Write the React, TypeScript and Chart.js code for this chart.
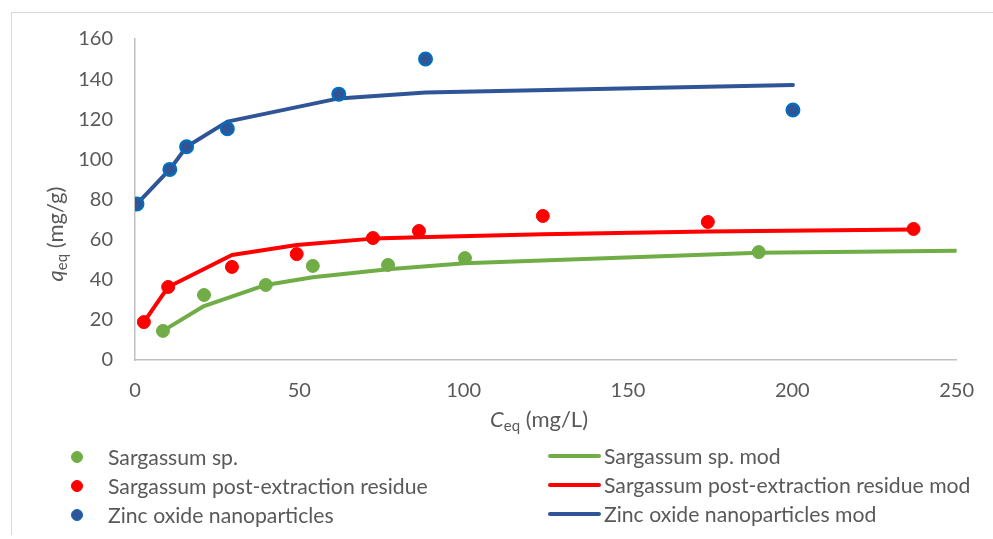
import React, { useEffect, useRef } from "react";
import { Chart, registerables } from "chart.js";
Chart.register(...registerables);

// ---- data ----
const seriesNames = [
  "Sargassum sp.",
  "Sargassum post-extraction residue",
  "Zinc oxide nanoparticles",
];
const modelNames = [
  "Sargassum sp. mod",
  "Sargassum post-extraction residue mod",
  "Zinc oxide nanoparticles mod",
];

const sargX = [8.5, 21, 39.8, 54.1, 77, 100.4, 189.8];
const sargY = [14.5, 32.4, 37.4, 46.9, 47.4, 50.8, 53.8];
const sargModX = [8.5, 21, 39.8, 54.1, 77, 100.4, 189.8, 250];
const sargModY = [14.5, 26.9, 37.4, 41.2, 45.2, 48.2, 53.5, 54.5];

const resX = [2.7, 10.1, 29.5, 49.2, 72.4, 86.4, 124.1, 174.3, 236.9];
const resY = [18.9, 36.4, 46.4, 52.8, 60.8, 64.3, 71.8, 68.8, 65.3];
const resModY = [18.9, 36.4, 52.3, 57.3, 60.5, 61.2, 62.7, 64.0, 65.1];

const znoX = [0.6, 10.6, 15.7, 28.1, 62, 88.4, 200.2];
const znoY = [77.8, 95, 106.3, 115.3, 132.5, 150, 124.6];
const znoModY = [77.8, 95, 106.3, 118.8, 130.4, 133.3, 137.1];

const xMin = 0, xMax = 250, xStep = 50;
const yMin = 0, yMax = 160, yStep = 20;

const GREEN = "#70AD47";
const RED = "#FF0000";
const BLUE_LINE = "#2F5597";
const BLUE_PT = "#2F5597";
const BLUE_PT_BORDER = "#0070C0";
const TEXT = "#595959";
const FONT = "Lato, 'Open Sans', sans-serif";

const pts = (xs: number[], ys: number[]) => xs.map((x, i) => ({ x, y: ys[i] }));

export default function App() {
  const ref = useRef<HTMLCanvasElement | null>(null);

  useEffect(() => {
    if (!ref.current) return;
    const pointDs = (label: string, data: any[], fill: string, border: string, bw: number) => ({
      type: "scatter" as const,
      label,
      data,
      showLine: false,
      backgroundColor: fill,
      borderColor: border,
      pointBackgroundColor: fill,
      pointBorderColor: border,
      pointBorderWidth: bw,
      pointRadius: 6.5,
      order: 0,
    });
    const lineDs = (label: string, data: any[], color: string) => ({
      type: "scatter" as const,
      label,
      data,
      showLine: true,
      borderColor: color,
      backgroundColor: color,
      borderWidth: 4,
      borderCapStyle: "round" as const,
      borderJoinStyle: "round" as const,
      pointRadius: 0,
      pointHoverRadius: 0,
      order: 1,
    });

    const chart = new Chart(ref.current, {
      type: "scatter",
      data: {
        datasets: [
          pointDs(seriesNames[0], pts(sargX, sargY), GREEN, GREEN, 1),
          pointDs(seriesNames[1], pts(resX, resY), RED, RED, 1),
          pointDs(seriesNames[2], pts(znoX, znoY), BLUE_PT, BLUE_PT_BORDER, 2),
          lineDs(modelNames[0], pts(sargModX, sargModY), GREEN),
          lineDs(modelNames[1], pts(resX, resModY), RED),
          lineDs(modelNames[2], pts(znoX, znoModY), BLUE_LINE),
        ] as any,
      },
      options: {
        responsive: false,
        animation: false,
        events: [],
        layout: { padding: { left: 0, right: 36, top: 39, bottom: 129 } },
        plugins: { legend: { display: false }, tooltip: { enabled: false } },
        scales: {
          x: {
            type: "linear",
            min: xMin,
            max: xMax,
            grid: { display: false, drawTicks: false },
            border: { display: true, color: "#BFBFBF", width: 1.5 },
            ticks: {
              stepSize: xStep,
              color: TEXT,
              padding: 19,
              font: { family: FONT, size: 20 },
            },
            afterFit: (s: any) => { s.height = 50; },
          },
          y: {
            type: "linear",
            min: yMin,
            max: yMax,
            grid: { display: false, drawTicks: false },
            border: { display: true, color: "#BFBFBF", width: 1.5 },
            ticks: {
              stepSize: yStep,
              color: TEXT,
              padding: 22,
              font: { family: FONT, size: 20 },
            },
            afterFit: (s: any) => { s.width = 135; },
          },
        },
      },
    });
    return () => chart.destroy();
  }, []);

  const legendLeft = seriesNames.map((n, i) => ({ n, c: [GREEN, RED, BLUE_PT][i], b: [GREEN, RED, BLUE_PT_BORDER][i] }));
  const legendRight = modelNames.map((n, i) => ({ n, c: [GREEN, RED, BLUE_LINE][i] }));
  const rowY = [458, 487, 516];

  return (
    <div style={{ position: "fixed", left: 0, top: 0, width: 993, height: 539, background: "#fff", overflow: "hidden", fontFamily: FONT, color: TEXT }}>
      <div style={{ position: "absolute", left: 11, top: 12, width: 1000, height: 522, borderLeft: "1px solid #D9D9D9", borderTop: "1px solid #D9D9D9" }} />
      <canvas ref={ref} width={993} height={539} style={{ position: "absolute", left: 0, top: 0 }} />
      <div style={{ position: "absolute", left: 58, top: 234, transform: "translate(-50%, -50%) rotate(-90deg)", whiteSpace: "nowrap", fontSize: 22, lineHeight: "24px" }}>
        <i>q</i><sub style={{ fontSize: 15, verticalAlign: "-4px" }}>eq</sub> (mg/g)
      </div>
      <div style={{ position: "absolute", left: 539, top: 422, transform: "translate(-50%, -50%)", whiteSpace: "nowrap", fontSize: 22, lineHeight: "24px" }}>
        <i>C</i><sub style={{ fontSize: 15, verticalAlign: "-4px" }}>eq</sub> (mg/L)
      </div>
      {legendLeft.map((it, i) => (
        <div key={"l" + i} style={{ position: "absolute", left: 0, top: rowY[i] - 13, height: 24 }}>
          <span style={{ position: "absolute", left: 71, top: 6, width: 10, height: 10, borderRadius: "50%", background: it.c, border: `1.5px solid ${it.b}` }} />
          <span style={{ position: "absolute", left: 108, whiteSpace: "nowrap", fontSize: 21.2, lineHeight: "24px", top: 0 }}>{it.n}</span>
        </div>
      ))}
      {legendRight.map((it, i) => (
        <div key={"r" + i} style={{ position: "absolute", left: 0, top: rowY[i] - 14, height: 24 }}>
          <span style={{ position: "absolute", left: 548, top: 10, width: 53, height: 4, borderRadius: 2, background: it.c }} />
          <span style={{ position: "absolute", left: 604, whiteSpace: "nowrap", fontSize: 21.2, lineHeight: "24px", top: 0 }}>{it.n}</span>
        </div>
      ))}
    </div>
  );
}
